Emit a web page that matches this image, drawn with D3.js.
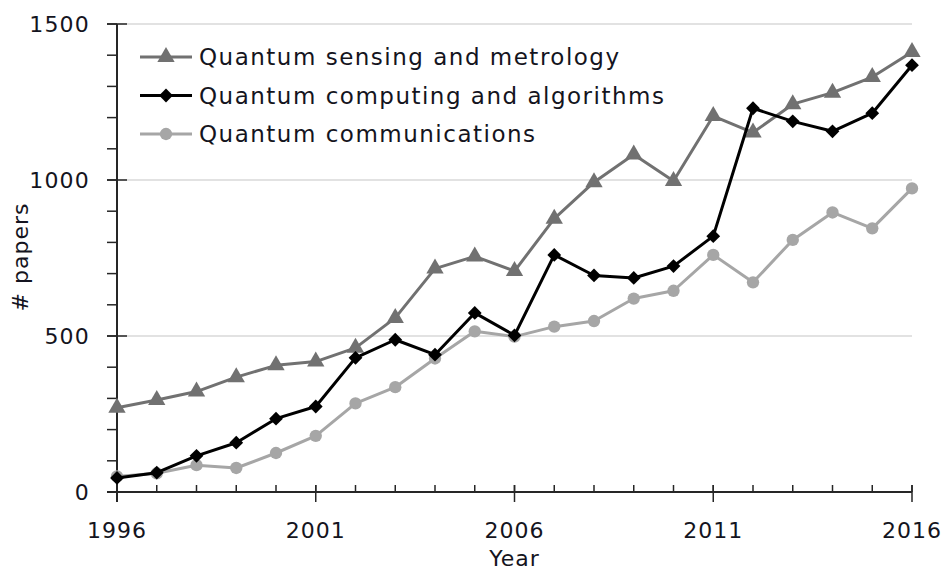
<!DOCTYPE html>
<html>
<head>
<meta charset="utf-8">
<script src="https://cdn.jsdelivr.net/npm/d3@7"></script>
<style>
  html, body { margin: 0; padding: 0; background: #fff; }
  svg { display: block; }
  text { font-family: "DejaVu Sans", sans-serif; fill: #141420; }
</style>
</head>
<body>
<svg id="chart" width="943" height="574"></svg>
<script>
const years = d3.range(1996, 2017);
const sensing = [270, 295, 322, 368, 406, 418, 462, 558, 716, 755, 708, 876, 993, 1082, 997, 1205, 1152, 1243, 1280, 1330, 1410];
const computing = [45, 62, 116, 158, 235, 274, 430, 488, 440, 574, 502, 760, 694, 686, 724, 820, 1230, 1188, 1156, 1214, 1368];
const communications = [50, 60, 86, 77, 125, 180, 284, 336, 428, 515, 498, 530, 548, 620, 645, 760, 672, 808, 896, 845, 973];
const seriesNames = ["Quantum sensing and metrology", "Quantum computing and algorithms", "Quantum communications"];
const xTicks = [1996, 2001, 2006, 2011, 2016];
const yTicks = [0, 500, 1000, 1500];

const svg = d3.select("#chart");
const x = d3.scaleLinear().domain([1996, 2016]).range([117, 912]);
const y = d3.scaleLinear().domain([0, 1500]).range([492, 24]);

svg.append("g").selectAll("line").data(yTicks.filter(d => d > 0)).join("line")
  .attr("x1", x(1996)).attr("x2", x(2016))
  .attr("y1", d => y(d)).attr("y2", d => y(d))
  .attr("stroke", "#d9d9d9").attr("stroke-width", 1.5);

const axisColor = "#262626";
const yAx = svg.append("g");
yAx.selectAll("line.minor").data(d3.range(0, 1501, 100)).join("line")
  .attr("x1", x(1996) - 10).attr("x2", x(1996))
  .attr("y1", d => y(d)).attr("y2", d => y(d))
  .attr("stroke", axisColor).attr("stroke-width", 1.5);
yAx.selectAll("line.major").data(yTicks).join("line")
  .attr("x1", x(1996) - 10).attr("x2", x(1996) + 10)
  .attr("y1", d => y(d)).attr("y2", d => y(d))
  .attr("stroke", axisColor).attr("stroke-width", 1.5);
yAx.append("line").attr("x1", x(1996)).attr("x2", x(1996))
  .attr("y1", y(1500)).attr("y2", y(0) + 10)
  .attr("stroke", axisColor).attr("stroke-width", 2);
yAx.selectAll("text").data(yTicks).join("text")
  .attr("x", x(1996) - 27).attr("y", d => y(d)).attr("dy", "0.36em")
  .attr("text-anchor", "end").attr("font-size", 22).attr("letter-spacing", 1.2).text(d => d);

const xAx = svg.append("g");
xAx.selectAll("line.minor").data(years).join("line")
  .attr("x1", d => x(d)).attr("x2", d => x(d))
  .attr("y1", y(0) - 7).attr("y2", y(0))
  .attr("stroke", axisColor).attr("stroke-width", 1.5);
xAx.selectAll("line.major").data(xTicks).join("line")
  .attr("x1", d => x(d)).attr("x2", d => x(d))
  .attr("y1", y(0) - 7).attr("y2", y(0) + 10)
  .attr("stroke", axisColor).attr("stroke-width", 1.5);
xAx.append("line").attr("x1", x(1996) - 10).attr("x2", x(2016))
  .attr("y1", y(0)).attr("y2", y(0))
  .attr("stroke", axisColor).attr("stroke-width", 2);
xAx.selectAll("text").data(xTicks).join("text")
  .attr("x", d => x(d)).attr("y", 538)
  .attr("text-anchor", "middle").attr("font-size", 22).attr("letter-spacing", 1).text(d => d);

svg.append("text").attr("x", x(2006)).attr("y", 566)
  .attr("text-anchor", "middle").attr("font-size", 22).attr("letter-spacing", 1).text("Year");
svg.append("text").attr("transform", "translate(28,257) rotate(-90)")
  .attr("text-anchor", "middle").attr("font-size", 22).attr("letter-spacing", 1).text("# papers");

const defs = [
  { name: seriesNames[0], values: sensing, color: "#717171", shape: d3.symbolTriangle, size: 130, rot: 0 },
  { name: seriesNames[1], values: computing, color: "#000000", shape: d3.symbolSquare, size: 95, rot: 45 },
  { name: seriesNames[2], values: communications, color: "#a6a6a6", shape: d3.symbolCircle, size: 120, rot: 0 }
];

const line = d3.line().x((d, i) => x(years[i])).y(d => y(d));
const drawOrder = [2, 0, 1];
drawOrder.forEach(k => {
  const s = defs[k];
  const g = svg.append("g");
  g.append("path").datum(s.values).attr("d", line)
    .attr("fill", "none").attr("stroke", s.color).attr("stroke-width", 3)
    .attr("stroke-linejoin", "round");
  g.selectAll("path.m").data(s.values).join("path")
    .attr("transform", (d, i) => `translate(${x(years[i])},${y(d)}) rotate(${s.rot})`)
    .attr("d", d3.symbol().type(s.shape).size(s.size))
    .attr("fill", s.color);
});

const leg = svg.append("g");
defs.forEach((s, i) => {
  const ly = 57 + i * 38.5;
  leg.append("line").attr("x1", 140).attr("x2", 192).attr("y1", ly).attr("y2", ly)
    .attr("stroke", s.color).attr("stroke-width", 3);
  leg.append("path").attr("transform", `translate(166,${ly}) rotate(${s.rot})`)
    .attr("d", d3.symbol().type(s.shape).size(s.size)).attr("fill", s.color);
  leg.append("text").attr("x", 199).attr("y", ly).attr("dy", "0.36em")
    .attr("font-size", 23).attr("letter-spacing", 1.5).text(s.name);
});
</script>
</body>
</html>
